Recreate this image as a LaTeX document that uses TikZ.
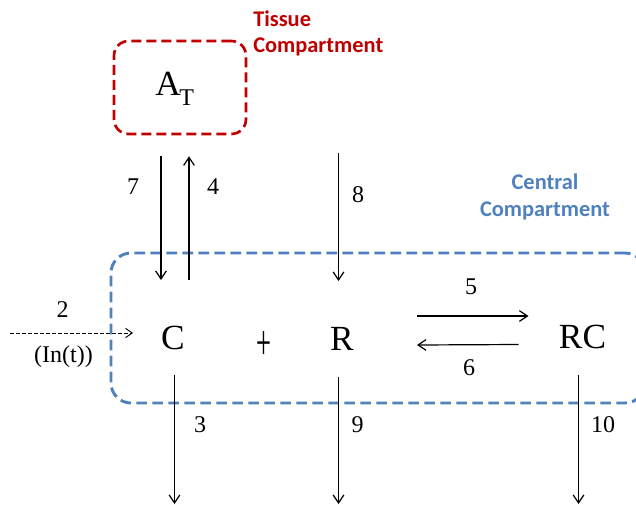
\documentclass[tikz,border=0pt]{standalone}
\usepackage{fontspec}
\setmainfont{Liberation Serif}
\newfontfamily\cmpfont{Carlito}
\usepackage{tikz}
\usetikzlibrary{arrows.meta, calc, positioning}
\definecolor{tissuered}{HTML}{C00000}
\definecolor{centralblue}{HTML}{4F81BD}

\begin{document}
\begin{tikzpicture}[x=0.75pt, y=-0.75pt,
    species/.style={font=\fontsize{26.5}{26.5}\selectfont, inner sep=0pt},
    num/.style={font=\fontsize{18}{18}\selectfont, inner sep=0pt},
    cmplabel/.style={font=\cmpfont\bfseries\fontsize{16.8}{20}\selectfont, inner sep=0pt},
    arr/.style={-{Straight Barb[length=6pt, width=8pt]}, line width=0.9pt},
    feed/.style={-{Straight Barb[length=5pt, width=7pt]}, line width=0.7pt,
                 dash pattern=on 3pt off 1.5pt},
    tbox/.style={draw=tissuered, line width=2pt, dash pattern=on 7.5pt off 3.75pt,
                 rounded corners=11pt, minimum width=99pt, minimum height=69.75pt},
    cbox/.style={draw=centralblue, line width=2.2pt, dash pattern=on 8pt off 4pt,
                 rounded corners=15pt, minimum width=400.5pt, minimum height=112.5pt}
  ]
  \useasboundingbox (0,0) rectangle (636,504);
  \clip (0,0) rectangle (636,504);

  % compartments
  \node[tbox] (tis) at (180,87.5) {};
  \node[cbox] (cen) at (378,328) {};
  \node[cmplabel, text=tissuered, align=left, anchor=west] (tislab) at (253,33.5)
    {Tissue\\Compartment};
  \node[cmplabel, text=centralblue, align=center] (cenlab) at (545,197)
    {Central\\Compartment};

  % species
  \node[species, anchor=base west] (at) at (155,95)
    {A\kern-1pt\raisebox{-7.5pt}{\fontsize{18}{18}\selectfont T}};
  \node[species] (c)  at (173,338) {C};
  \node[species] (pl) at (264,346) {\scalebox{0.75}[1.4]{+}};
  \node[species] (r)  at (342,339) {R};
  \node[species] (rc) at (582.5,336.5) {RC};

  % free ends
  \coordinate (src2) at (10,333);
  \coordinate (src8) at (338.5,153);
  \coordinate (out3) at (174.5,504);
  \coordinate (out9) at (338.5,504);
  \coordinate (out10) at (578.5,504);

  % exchange with tissue
  \draw[arr] ($(tis.south)+(-19,21)$) -- ($(c)+(-12,-58)$);
  \draw[arr] ($(c)+(16,-58)$) -- ($(tis.south)+(9,21)$);
  \draw[arr] (src8) -- (src8 |- {$(r)+(0,-58)$});
  \draw[feed] (src2) -- ($(c)+(-40,-5)$);

  % binding
  \draw[arr] ($(r)+(75,-23)$) -- ($(rc)+(-54,-20.5)$);
  \draw[arr] ($(rc)+(-64,8)$) -- ($(r)+(75,6)$);

  % elimination
  \draw[arr] ($(c)+(1.5,37)$) -- (out3);
  \draw[arr] ($(r)+(-3.5,38)$) -- (out9);
  \draw[arr] ($(rc)+(-4,38.5)$) -- (out10);

  % rate labels
  \node[num] (l2) at (62.5,310) {2};
  \node[num] (lin) at (63.5,357) {(In(t))};
  \node[num] (l3) at (200,425) {3};
  \node[num] (l4) at (213,186.5) {4};
  \node[num] (l5) at (471,287) {5};
  \node[num] (l6) at (469,367.5) {6};
  \node[num] (l7) at (133,186.5) {7};
  \node[num] (l8) at (358,195) {8};
  \node[num] (l9) at (357.5,425) {9};
  \node[num] (l10) at (603,425) {10};
\end{tikzpicture}
\end{document}
